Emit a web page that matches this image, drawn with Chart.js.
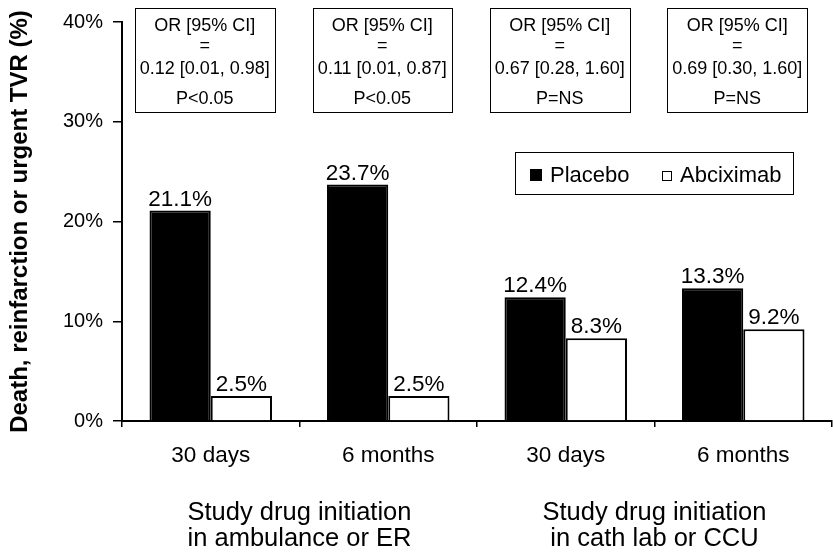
<!DOCTYPE html>
<html>
<head>
<meta charset="utf-8">
<script src="https://cdn.jsdelivr.net/npm/chart.js@4"></script>
<style>
  body { margin: 0; background: #fff; }
  #wrap { width: 833px; height: 552px; }
</style>
</head>
<body>
<div id="wrap"><canvas id="orChart"></canvas></div>
<script>
const periods = ['30 days', '6 months', '30 days', '6 months']
const groups = [['Study drug initiation', 'in ambulance or ER'], ['Study drug initiation', 'in cath lab or CCU']]
const placebo = [21.1, 23.7, 12.4, 13.3]
const abciximab = [2.5, 2.5, 8.3, 9.2]
const oddsRatios = ['0.12 [0.01, 0.98]', '0.11 [0.01, 0.87]', '0.67 [0.28, 1.60]', '0.69 [0.30, 1.60]']
const pValues = ['P<0.05', 'P<0.05', 'P=NS', 'P=NS']
const yTicks = [0, 10, 20, 30, 40]

const fuente = '"Liberation Sans", Arial, sans-serif'
Chart.defaults.font.family = fuente
Chart.defaults.color = '#000'

// valores encima de cada barra
const etiquetas = {
  id: 'etiquetas',
  afterDatasetsDraw(chart) {
    const ctx = chart.ctx
    ctx.save()
    ctx.font = '22.5px ' + fuente
    ctx.fillStyle = '#000'
    ctx.textAlign = 'center'
    ctx.textBaseline = 'alphabetic'
    chart.data.datasets.forEach((ds, i) => {
      chart.getDatasetMeta(i).data.forEach((bar, j) => {
        ctx.fillText(ds.data[j].toFixed(1) + '%', bar.x, bar.y - 5)
      })
    })
    ctx.restore()
  }
}

// cajas con OR arriba
const cajas = {
  id: 'cajas',
  afterDraw(chart) {
    const ctx = chart.ctx
    const x = chart.scales.x
    const top = chart.chartArea.top
    ctx.save()
    ctx.font = '18px ' + fuente
    ctx.strokeStyle = '#000'
    ctx.lineWidth = 1
    ctx.textAlign = 'center'
    oddsRatios.forEach((or, i) => {
      const cx = x.getPixelForValue(i) - 6
      const w = ctx.measureText(or).width + 10
      ctx.fillStyle = '#fff'
      ctx.fillRect(cx - w / 2, top - 14, w, 105)
      ctx.strokeRect(Math.round(cx - w / 2) + 0.5, top - 13.5, Math.round(w), 104)
      ctx.fillStyle = '#000'
      ctx.fillText('OR [95% CI]', cx, top + 9)
      ctx.fillText('=', cx, top + 29)
      ctx.fillText(or, cx, top + 52)
      ctx.fillText(pValues[i], cx, top + 82)
    })
    ctx.restore()
  }
}

// etiquetas de grupo debajo del eje
const grupos = {
  id: 'grupos',
  afterDraw(chart) {
    const ctx = chart.ctx
    const x = chart.scales.x
    const bottom = chart.chartArea.bottom
    ctx.save()
    ctx.font = '25.5px ' + fuente
    ctx.fillStyle = '#000'
    ctx.textAlign = 'center'
    groups.forEach((g, i) => {
      const cx = (x.getPixelForValue(i * 2) + x.getPixelForValue(i * 2 + 1)) / 2
      ctx.fillText(g[0], cx, bottom + 99)
      ctx.fillText(g[1], cx, bottom + 125)
    })
    ctx.restore()
  }
}

// leyenda dentro del area
const leyenda = {
  id: 'leyenda',
  afterDraw(chart) {
    const ctx = chart.ctx
    const area = chart.chartArea
    const left = area.right - 317
    const top = area.top + 130
    ctx.save()
    ctx.strokeStyle = '#000'
    ctx.lineWidth = 1
    ctx.fillStyle = '#fff'
    ctx.fillRect(left, top, 278, 42)
    ctx.strokeRect(left + 0.5, top + 0.5, 278, 42)
    ctx.font = '22px ' + fuente
    ctx.fillStyle = '#000'
    ctx.fillRect(left + 15, top + 17, 12, 12)
    ctx.fillText(chart.data.datasets[0].label, left + 35, top + 30)
    ctx.strokeRect(left + 147.5, top + 19.5, 9, 9)
    ctx.fillText(chart.data.datasets[1].label, left + 165, top + 30)
    ctx.restore()
  }
}

new Chart(document.getElementById('orChart'), {
  type: 'bar',
  data: {
    labels: periods,
    datasets: [{
      label: 'Placebo',
      data: placebo,
      backgroundColor: '#000',
      borderColor: '#000',
      borderWidth: 2
    }, {
      label: 'Abciximab',
      data: abciximab,
      backgroundColor: '#fff',
      borderColor: '#000',
      borderWidth: 2
    }]
  },
  options: {
    responsive: true,
    maintainAspectRatio: false,
    animation: false,
    layout: { padding: { top: 22, right: 1, left: 0, bottom: 0 } },
    datasets: {
      bar: { categoryPercentage: 0.69, barPercentage: 1.0 }
    },
    plugins: {
      legend: { display: false },
      tooltip: { enabled: false }
    },
    scales: {
      x: {
        afterFit: s => { s.height = 131 },
        grid: {
          offset: true,
          drawOnChartArea: false,
          tickLength: 6,
          color: '#000',
          lineWidth: 1.5
        },
        border: { display: true, color: '#000', width: 2 },
        ticks: { font: { size: 22.5 }, padding: 15, color: '#000' }
      },
      y: {
        min: 0,
        max: 40,
        afterFit: s => { s.width = 122 },
        afterBuildTicks: s => { s.ticks = yTicks.map(v => ({ value: v })) },
        grid: {
          drawOnChartArea: false,
          tickLength: 9,
          color: '#000',
          lineWidth: 1.5
        },
        border: { display: true, color: '#000', width: 2 },
        ticks: {
          font: { size: 20 },
          padding: 10,
          color: '#000',
          callback: v => v + '%'
        },
        title: {
          display: true,
          text: 'Death, reinfarction or urgent TVR (%)',
          font: { size: 24, weight: 'bold' },
          color: '#000',
          padding: { top: 6, bottom: 0 }
        }
      }
    }
  },
  plugins: [etiquetas, cajas, grupos, leyenda]
})
</script>
</body>
</html>
